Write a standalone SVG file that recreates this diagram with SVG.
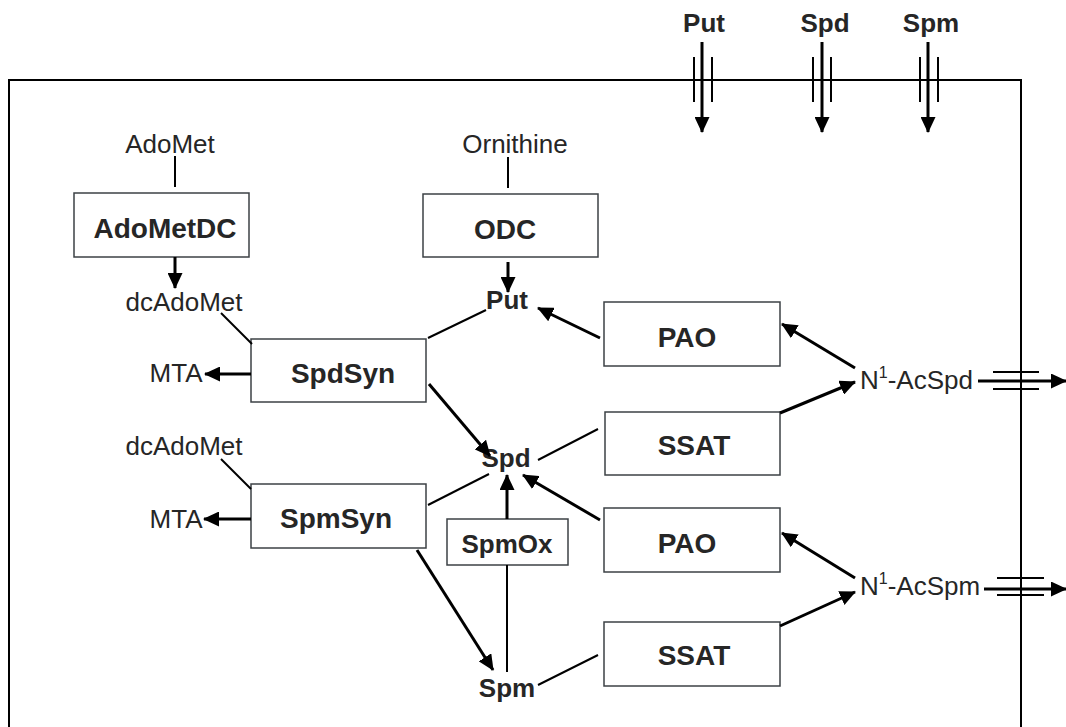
<svg xmlns="http://www.w3.org/2000/svg" width="1066" height="727" viewBox="0 0 1066 727">
<style>
text{font-family:"Liberation Sans",Arial,sans-serif;fill:#262626}
.r{font-size:26px}
.b{font-size:26px;font-weight:bold}
.bb{font-size:28px;font-weight:bold}
.box{fill:#fff;stroke:#3c4145;stroke-width:1.5}
.ln{stroke:#000;stroke-width:2;fill:none}
.ar{stroke:#000;stroke-width:3;fill:none;marker-end:url(#ah)}
.bar{stroke:#000;stroke-width:2}
</style>
<defs>
<marker id="ah" markerUnits="userSpaceOnUse" markerWidth="16" markerHeight="15" refX="15" refY="7.5" orient="auto" viewBox="0 0 16 15">
<path d="M0,0 L16,7.5 L0,15 z" fill="#000"/>
</marker>
</defs>
<rect x="9" y="80" width="1012" height="700" fill="none" stroke="#000" stroke-width="2"/>
<g id="transport-labels">
<text class="b" x="704" y="32" text-anchor="middle">Put</text>
<text class="b" x="825" y="32" text-anchor="middle">Spd</text>
<text class="b" x="931" y="32" text-anchor="middle">Spm</text>
</g>
<g id="AdoMet"><text class="r" x="170" y="153" text-anchor="middle">AdoMet</text></g>
<g id="Ornithine"><text class="r" x="515" y="153" text-anchor="middle">Ornithine</text></g>
<g id="AdoMetDC"><rect class="box" x="74" y="193" width="175" height="64"/><text class="bb" x="165" y="238" text-anchor="middle">AdoMetDC</text></g>
<g id="ODC"><rect class="box" x="423" y="194" width="175" height="63"/><text class="bb" x="505" y="239" text-anchor="middle">ODC</text></g>
<g id="dcAdoMet1"><text class="r" x="184" y="311" text-anchor="middle">dcAdoMet</text></g>
<g id="Put"><text class="b" x="507" y="309" text-anchor="middle">Put</text></g>
<g id="PAO1"><rect class="box" x="604" y="302" width="176" height="64"/><text class="bb" x="687" y="347" text-anchor="middle">PAO</text></g>
<g id="MTA1"><text class="r" x="176" y="382" text-anchor="middle">MTA</text></g>
<g id="SpdSyn"><rect class="box" x="251" y="339" width="175" height="63"/><text class="bb" x="343" y="383" text-anchor="middle">SpdSyn</text></g>
<g id="N1AcSpd"><text class="r" x="860" y="389">N<tspan font-size="16" dy="-11">1</tspan><tspan dy="11">-AcSpd</tspan></text></g>
<g id="SSAT1"><rect class="box" x="605" y="412" width="175" height="63"/><text class="bb" x="694" y="455" text-anchor="middle">SSAT</text></g>
<g id="dcAdoMet2"><text class="r" x="184" y="455" text-anchor="middle">dcAdoMet</text></g>
<g id="Spd"><text class="b" x="506" y="467" text-anchor="middle">Spd</text></g>
<g id="MTA2"><text class="r" x="176" y="528" text-anchor="middle">MTA</text></g>
<g id="SpmSyn"><rect class="box" x="251" y="484" width="175" height="64"/><text class="bb" x="336" y="528" text-anchor="middle">SpmSyn</text></g>
<g id="SpmOx"><rect class="box" x="447" y="519" width="121" height="46"/><text class="b" x="507" y="553" text-anchor="middle">SpmOx</text></g>
<g id="PAO2"><rect class="box" x="604" y="508" width="176" height="64"/><text class="bb" x="687" y="553" text-anchor="middle">PAO</text></g>
<g id="N1AcSpm"><text class="r" x="860" y="595">N<tspan font-size="16" dy="-11">1</tspan><tspan dy="11">-AcSpm</tspan></text></g>
<g id="SSAT2"><rect class="box" x="604" y="622" width="176" height="64"/><text class="bb" x="694" y="665" text-anchor="middle">SSAT</text></g>
<g id="Spm"><text class="b" x="507" y="697" text-anchor="middle">Spm</text></g>
<g id="connectors">
<line class="ln" x1="175" y1="156" x2="175" y2="187"/>
<line class="ln" x1="508" y1="157" x2="508" y2="188"/>
<line class="ln" x1="221" y1="313" x2="252" y2="344"/>
<line class="ln" x1="486" y1="310" x2="428" y2="338"/>
<line class="ln" x1="538" y1="460" x2="598" y2="429"/>
<line class="ln" x1="428" y1="505" x2="489" y2="474"/>
<line class="ln" x1="221" y1="459" x2="251" y2="489"/>
<line class="ln" x1="507" y1="672" x2="507" y2="565"/>
<line class="ln" x1="538" y1="685" x2="598" y2="655"/>
<line class="ar" x1="175" y1="257" x2="175" y2="288"/>
<line class="ar" x1="508" y1="262" x2="508" y2="292"/>
<line class="ar" x1="600" y1="338" x2="538" y2="308"/>
<line class="ar" x1="251" y1="374" x2="205" y2="374"/>
<line class="ar" x1="429" y1="384" x2="490" y2="456"/>
<line class="ar" x1="251" y1="519" x2="204" y2="519"/>
<line class="ar" x1="507" y1="519" x2="507" y2="475"/>
<line class="ar" x1="600" y1="520" x2="523" y2="475"/>
<line class="ar" x1="417" y1="550" x2="493" y2="670"/>
<line class="ar" x1="855" y1="368" x2="782" y2="324"/>
<line class="ar" x1="780" y1="413" x2="855" y2="382"/>
<line class="ar" x1="855" y1="578" x2="782" y2="533"/>
<line class="ar" x1="780" y1="626" x2="855" y2="592"/>
<line class="ar" x1="702" y1="42" x2="702" y2="132"/>
<line class="bar" x1="694" y1="57" x2="694" y2="102"/>
<line class="bar" x1="712" y1="57" x2="712" y2="102"/>
<line class="ar" x1="822" y1="42" x2="822" y2="132"/>
<line class="bar" x1="813" y1="57" x2="813" y2="102"/>
<line class="bar" x1="831" y1="57" x2="831" y2="102"/>
<line class="ar" x1="928" y1="42" x2="928" y2="132"/>
<line class="bar" x1="920" y1="57" x2="920" y2="102"/>
<line class="bar" x1="938" y1="57" x2="938" y2="102"/>
<line class="ar" x1="978" y1="381" x2="1066" y2="381"/>
<line class="bar" x1="993" y1="372" x2="1039" y2="372"/>
<line class="bar" x1="993" y1="389" x2="1039" y2="389"/>
<line class="ar" x1="984" y1="589" x2="1066" y2="589"/>
<line class="bar" x1="997" y1="578" x2="1044" y2="578"/>
<line class="bar" x1="997" y1="595" x2="1044" y2="595"/>
</g>
</svg>
